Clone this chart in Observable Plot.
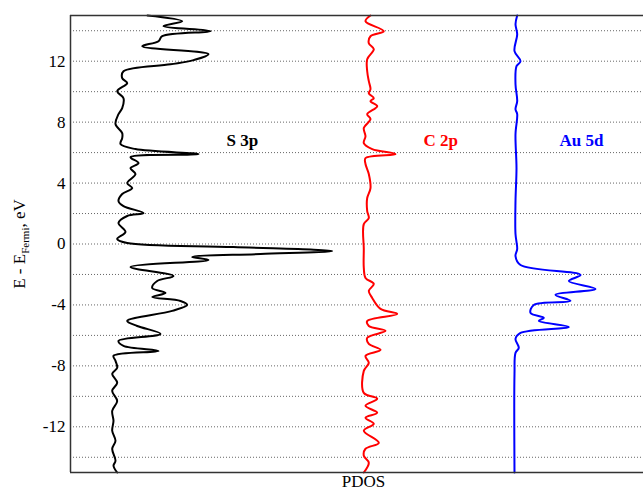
<!DOCTYPE html>
<html>
<head>
<meta charset="utf-8">
<script src="https://cdn.jsdelivr.net/npm/d3@7"></script>
<script src="https://cdn.jsdelivr.net/npm/@observablehq/plot@0.6"></script>
<style>
  html, body { margin: 0; padding: 0; background: #fff; }
  #chart { width: 643px; height: 492px; }
</style>
</head>
<body>
<div id="chart"></div>
<script>
// Energy (E - E_Fermi, eV) and PDOS (arbitrary units, including each curve's offset)
const sEnergy = [15,14.62,14.30,13.97,13.64,13.31,12.98,12.46,12.07,11.80,11.34,10.89,10.56,10.03,9.57,8.92,8.52,7.87,7.28,6.95,6.56,6.23,5.90,5.70,5.31,4.98,4.59,4.00,3.67,3.28,2.82,2.49,2.03,1.84,1.38,0.79,0.33,0.07,-0.20,-0.46,-0.66,-0.85,-1.05,-1.51,-2.10,-2.43,-2.89,-3.21,-3.48,-3.74,-4.00,-4.39,-5.05,-5.38,-5.90,-6.36,-6.69,-7.02,-7.34,-7.67,-8.13,-8.52,-9.11,-9.64,-10.30,-10.95,-11.61,-12.26,-12.92,-13.44,-14.23,-14.56,-15];
const sPdos = [77,111.7,93,140,91.7,88,71.7,138,123,100,53,51.7,56.7,46.7,53,51.7,48,45,51.7,51.7,50,65,128,60,68,60,65,56.7,61.7,51.7,48,53,73,56.7,48,55,46.7,56.7,163,261.7,190,121.7,138,60,103,86.7,81.7,95,81.7,110,116.7,101.7,56.7,66.7,90,48,53,88,43,45,46.7,41.7,46.7,41.7,46.7,41.7,43,41.7,45,41.7,45,43,46.7];

const cEnergy = [15,14.62,13.97,13.64,13.18,12.79,12.13,11.34,10.69,10.16,9.90,9.57,9.38,9.05,8.52,8.20,7.61,7.08,6.62,6.23,5.90,5.64,5.25,4.59,3.67,3.02,2.16,1.70,1.31,-0.33,-1.57,-2.23,-2.62,-3.08,-3.54,-4.26,-4.59,-5.05,-5.38,-5.70,-6.16,-6.56,-6.95,-7.34,-7.80,-8.33,-9.77,-10.16,-10.62,-11.08,-11.41,-11.80,-12.26,-13.05,-13.44,-13.90,-14.36,-15];
const cPdos = [300,295,313.3,300,298.3,303.3,296.7,296.7,298.3,300,298.3,303.3,300,306.7,296.7,300,293.3,295,293.3,301.7,325,295,295,298.3,300,296.7,296.7,298.3,293.3,293.3,293.3,295,303.3,298.3,301.7,310,326.7,296.7,298.3,315,296.7,298.3,310,295,298.3,293.3,293.3,306.7,295,306.7,295,303.3,293.3,308.3,295,293.3,298.3,293.3];

const auEnergy = [15,14.43,13.77,12.66,12.00,11.67,10.49,9.38,8.85,8.52,7.21,4.98,2.82,0.66,-0.33,-0.79,-1.38,-2.03,-2.43,-2.95,-3.34,-3.74,-4.00,-4.52,-4.85,-5.05,-5.44,-5.84,-6.23,-6.82,-7.15,-8.52,-15];
const auPdos = [446.7,445,446.7,444,450,446,445,446.7,445,446.7,445,446,445,445,446.7,445,450,510,498.3,525,485,500,463.3,460,473.3,468.3,498.3,450,445,448.3,445,444,444];

const seriesNames = ["S 3p", "C 2p", "Au 5d"];
const seriesColors = ["#000000", "#ff0000", "#0000ff"];
const gridE = [-14,-12,-10,-8,-6,-4,-2,0,2,4,6,8,10,12,14];
const yTicks = [-12,-8,-4,0,4,8,12];
const yTickLabels = ["-12","-8","-4","0","4","8","12"];

const toRows = (E, P, name) => E.map((e, i) => ({energy: e, pdos: P[i], series: name}));
const sRows = toRows(sEnergy, sPdos, seriesNames[0]);
const cRows = toRows(cEnergy, cPdos, seriesNames[1]);
const auRows = toRows(auEnergy, auPdos, seriesNames[2]);

const labelRows = [
  {name: seriesNames[0], x: 156, e: 6.78, color: seriesColors[0]},
  {name: seriesNames[1], x: 353, e: 6.78, color: seriesColors[1]},
  {name: seriesNames[2], x: 489, e: 6.78, color: seriesColors[2]}
];

const font = "'Liberation Serif', 'Times New Roman', serif";

const chart = Plot.plot({
  width: 643,
  height: 492,
  marginTop: 15,
  marginBottom: 20,
  marginLeft: 70,
  marginRight: 0,
  style: {fontFamily: font, fontSize: "17px", background: "white", color: "#000"},
  x: {domain: [0, 573], axis: null},
  y: {
    domain: [-15, 15],
    ticks: yTicks,
    tickSize: 0,
    tickPadding: 5,
    tickFormat: d => yTickLabels[yTicks.indexOf(d)],
    label: null
  },
  marks: [
    Plot.ruleY(gridE, {stroke: "#666", strokeWidth: 1, strokeDasharray: "1,2"}),
    Plot.line(sRows, {x: "pdos", y: "energy", curve: "catmull-rom", stroke: seriesColors[0], strokeWidth: 2}),
    Plot.line(cRows, {x: "pdos", y: "energy", curve: "catmull-rom", stroke: seriesColors[1], strokeWidth: 2}),
    Plot.line(auRows, {x: "pdos", y: "energy", curve: "catmull-rom", stroke: seriesColors[2], strokeWidth: 2}),
    Plot.ruleY([-15, 15], {stroke: "#333", strokeWidth: 1.5}),
    Plot.ruleX([0], {stroke: "#333", strokeWidth: 1.5}),
    Plot.text(labelRows, {x: "x", y: "e", text: "name", fill: "color", textAnchor: "start", fontSize: 17, fontWeight: "bold", fontFamily: font}),
    Plot.text(["PDOS"], {frameAnchor: "bottom", x: 293, dy: 14, text: d => d, fontSize: 17, fontFamily: font, fill: "#000"})
  ]
});

document.getElementById("chart").appendChild(chart);

// y-axis title with subscript
const svg = d3.select(chart);
const t = svg.append("text")
  .attr("transform", "translate(25,244) rotate(-90)")
  .attr("text-anchor", "middle")
  .attr("font-family", font)
  .attr("font-size", 17)
  .attr("fill", "#000");
t.append("tspan").text("E - E");
t.append("tspan").attr("font-size", 11).attr("dy", 4).text("Fermi");
t.append("tspan").attr("dy", -4).text(", eV");
</script>
</body>
</html>
